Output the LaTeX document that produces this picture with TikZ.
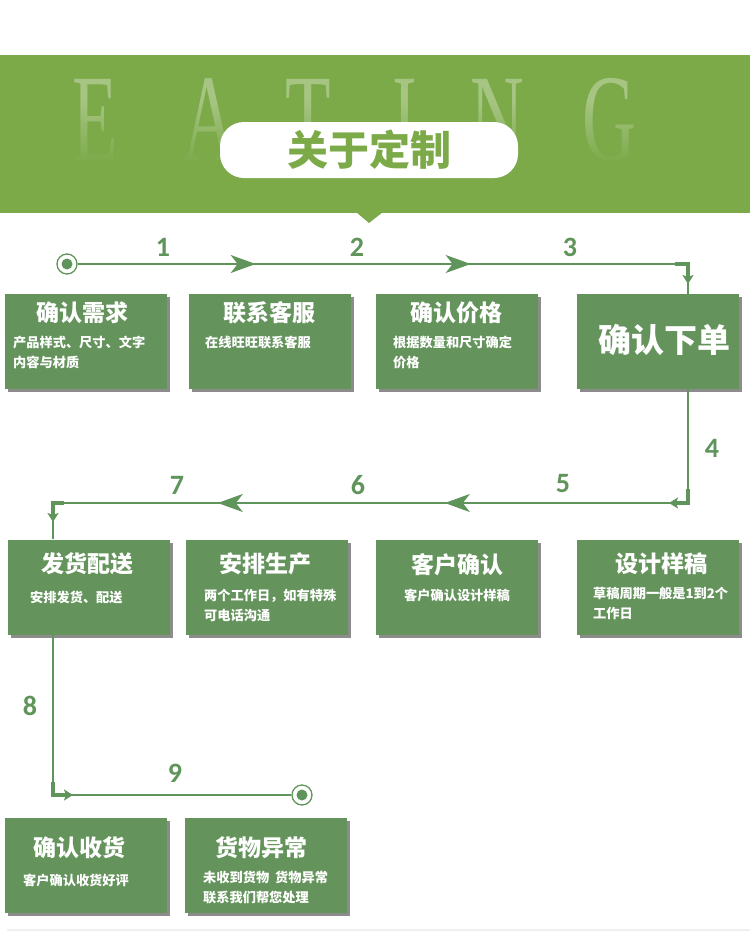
\documentclass[tikz,border=0pt]{standalone}
\usepackage{fontspec}
\newfontfamily\cjk{Noto Sans CJK SC}
\newfontfamily\numfont{Carlito}
\newfontfamily\ghostfont{Liberation Serif}
\usetikzlibrary{arrows.meta,shadows,fadings,decorations.markings,calc}

\definecolor{bannergreen}{HTML}{7CAA49}
\definecolor{boxgreen}{HTML}{64945C}
\definecolor{linegreen}{HTML}{5F955A}

\tikzfading[name=fadeup, top color=transparent!100, bottom color=transparent!0]

\tikzset{
  bigtip/.tip={Stealth[length=25pt, width=18pt, inset=7pt]},
  smalltip/.tip={Stealth[length=9pt, width=11pt, inset=2pt]},
  stepcard/.style={fill=boxgreen, minimum width=162pt, minimum height=95pt, inner sep=0pt,
    drop shadow={shadow xshift=3pt, shadow yshift=-3pt, fill=black, opacity=.45}},
  cardtitle/.style={text=white, inner sep=0pt, font=\cjk\bfseries\fontsize{23}{26}\selectfont},
  cardnote/.style={text=white, inner sep=0pt, align=left, anchor=north west,
    font=\cjk\bfseries\fontsize{13.2}{19.5}\selectfont},
  flow/.style={draw=linegreen, line width=2pt},
  hook/.style={draw=linegreen, line width=4pt, -{smalltip}},
  arrowsat/.style={postaction=decorate, decoration={markings, #1}},
  stepno/.style={text=linegreen, inner sep=0pt, font=\numfont\bfseries\fontsize{28}{30}\selectfont},
  endpoint/.style={circle, draw=linegreen, line width=1.3pt, minimum size=20pt, inner sep=0pt,
    path picture={\fill[linegreen] (path picture bounding box.center) circle (5.5pt);}},
  ghost/.style={anchor=base, text=white, opacity=.32, inner sep=0pt, font=\ghostfont\fontsize{124}{124}\selectfont},
  pill/.style={fill=white, rounded corners=24pt, minimum width=298pt, minimum height=56pt,
    text=bannergreen, font=\cjk\bfseries\fontsize{41}{44}\selectfont}
}

\begin{document}
\begin{tikzpicture}[x=1pt, y=-1pt]
    \useasboundingbox (0,0) rectangle (750,948);
    \fill[white] (0,0) rectangle (750,948);
    \fill[bannergreen] (0,55) rectangle (750,213);
    \fill[bannergreen] (356,212) -- (383,212) -- (369,223) -- cycle;
    \foreach \ch/\cx in {E/95, A/209, T/308, I/405, N/497, G/609}
        \node[ghost] at (\cx,160) {\scalebox{0.6}[1]{\ch}};
    \fill[bannergreen, path fading=fadeup] (40,100) rectangle (700,164);
    \node[pill] (head) at (369,150) {关于定制};

    \node[stepcard] (b1) at (86,341.5) {};
    \node[stepcard] (b2) at (270,341.5) {};
    \node[stepcard] (b3) at (457,341.5) {};
    \node[stepcard] (b4) at (658,341.5) {};
    \node[stepcard] (b5) at (89,587) {};
    \node[stepcard] (b6) at (267,587) {};
    \node[stepcard] (b7) at (457,587) {};
    \node[stepcard] (b8) at (658,587) {};
    \node[stepcard] (b9) at (86,865.5) {};
    \node[stepcard] (b10) at (266,865.5) {};

    \node[cardtitle] (t1) at (82,313) {确认需求};
    \node[cardtitle] (t2) at (269,313) {联系客服};
    \node[cardtitle] (t3) at (456,313) {确认价格};
    \node[cardtitle, font=\cjk\bfseries\fontsize{33}{36}\selectfont] (t4) at (664,340) {确认下单};
    \node[cardtitle] (t5) at (87,564) {发货配送};
    \node[cardtitle] (t6) at (265,564) {安排生产};
    \node[cardtitle] (t7) at (457,565) {客户确认};
    \node[cardtitle] (t8) at (661,564) {设计样稿};
    \node[cardtitle] (t9) at (80,848) {确认收货};
    \node[cardtitle] (t10) at (261,848) {货物异常};

    \node[cardnote] (d1) at (13,336) {产品样式、尺寸、文字\\内容与材质};
    \node[cardnote] (d2) at (205,336) {在线旺旺联系客服};
    \node[cardnote] (d3) at (393,336) {根据数量和尺寸确定\\价格};
    \node[cardnote] (d5) at (30,591) {安排发货、配送};
    \node[cardnote] (d6) at (204,589) {两个工作日，如有特殊\\可电话沟通};
    \node[cardnote, anchor=center] (d7) at (457,595) {客户确认设计样稿};
    \node[cardnote] (d8) at (593,587) {草稿周期一般是1到2个\\工作日};
    \node[cardnote, anchor=center] (d9) at (76,880) {客户确认收货好评};
    \node[cardnote] (d10) at (203,871) {未收到货物\ \ 货物异常\\联系我们帮您处理};

    \node[endpoint] (s) at (67,264) {};
    \node[endpoint] (e) at (302,795) {};
    \coordinate (k1) at (688,264);
    \coordinate (k2) at (688,503);
    \coordinate (k3) at (53,503);
    \coordinate (k4) at (53,795);

    \draw[flow, arrowsat={mark=at position 178pt with {\arrow{bigtip}},
        mark=at position 393pt with {\arrow{bigtip}}}] (s) -- (k1) -- (k1 |- b4.north);
    \draw[flow, arrowsat={mark=at position 357pt with {\arrow{bigtip}},
        mark=at position 584pt with {\arrow{bigtip}}}] (k2 |- b4.south) -- (k2) -- (k3) -- (k3 |- b5.north);
    \draw[flow] (k3 |- b5.south) -- (k4) -- (e);

    \draw[hook] ($(k1)+(-13,0)$) -- (k1) -- ($(k1)+(0,20)$);
    \draw[hook] ($(k2)+(0,-14)$) -- (k2) -- ($(k2)+(-19,0)$);
    \draw[hook] ($(k3)+(11,0)$) -- (k3) -- ($(k3)+(0,19)$);
    \draw[hook] ($(k4)+(0,-13)$) -- (k4) -- ($(k4)+(20,0)$);

    \node[stepno] (n1) at (163,247) {1};
    \node[stepno] (n2) at (357,247) {2};
    \node[stepno] (n3) at (570,247) {3};
    \node[stepno] (n4) at (712,448) {4};
    \node[stepno] (n5) at (563,484) {5};
    \node[stepno] (n6) at (358,485) {6};
    \node[stepno] (n7) at (177,485) {7};
    \node[stepno] (n8) at (30,706) {8};
    \node[stepno] (n9) at (175,773) {9};

    \draw[gray!12, line width=2.5pt] (7,930) -- (750,930);
\end{tikzpicture}
\end{document}
